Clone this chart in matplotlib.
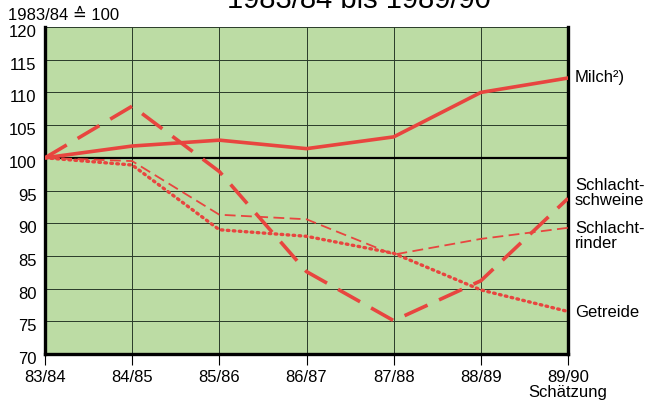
import matplotlib
matplotlib.use("Agg")
import matplotlib.pyplot as plt
import matplotlib.transforms as mtransforms

plt.rcParams['font.family'] = ['Liberation Sans', 'DejaVu Sans']

years = ["83/84", "84/85", "85/86", "86/87", "87/88", "88/89", "89/90"]
milch = [100, 101.8, 102.7, 101.4, 103.2, 110.0, 112.2]
schweine = [100, 107.9, 97.9, 82.6, 75.1, 81.2, 93.8]
rinder = [100, 99.5, 91.3, 90.6, 85.2, 87.6, 89.3]
getreide = [100, 98.9, 89.0, 88.0, 85.4, 79.8, 76.5]
y_ticks = list(range(70, 121, 5))

red = "#e8453f"
green = "#bcdca4"
fs = 12

fig = plt.figure(figsize=(6.55, 4.06), dpi=100)
ax = fig.add_axes([0.0687, 0.1256, 0.7985, 0.8054])
ax.set_facecolor(green)
x = list(range(len(years)))

ax.plot(x, milch, color=red, lw=2.6, solid_joinstyle="round", zorder=5)
ax.plot(x, schweine, color=red, lw=2.6, dashes=(7, 3.5), zorder=5)
ax.plot(x, rinder, color=red, lw=1.3, dashes=(6, 3), zorder=4)
ax.plot(x, getreide, color=red, lw=2.4, dashes=(0.5, 1.3), dash_capstyle="round", zorder=4)

ax.set_xlim(0, 6)
ax.set_ylim(70, 120)
ax.set_xticks(x)
ax.set_xticklabels(years[:-1] + ["89/90\nSchätzung"], linespacing=0.95)
ax.set_yticks(y_ticks)
ax.tick_params(axis="x", length=8, width=0.8, direction="out", labelsize=fs, pad=3)
ax.tick_params(axis="y", length=0, labelsize=fs, pad=6)
# labels sit a little below their lines in the original
shift = mtransforms.ScaledTranslation(0, -3 / 100, fig.dpi_scale_trans)
for t in ax.yaxis.get_major_ticks():
    t.label1.set_transform(t.label1.get_transform() + shift)
ax.grid(True, color="#2a3a2a", lw=0.7)
ax.axhline(100, color="black", lw=1.6, zorder=3)

for side in ["left", "bottom", "right"]:
    ax.spines[side].set_linewidth(2.4)
    ax.spines[side].set_color("black")
ax.spines["top"].set_visible(False)

ax.text(-0.42, 121.9, "1983/84 ≙ 100", fontsize=fs, ha="left", va="center", clip_on=False)
fig.text(0.548, 1.0, "1983/84 bis 1989/90", fontsize=21, ha="center", va="center")

lx = 6.08
ax.text(lx, 112.4, "Milch²)", fontsize=fs, va="center", clip_on=False)
ax.text(lx, 94.7, "Schlacht-\nschweine", fontsize=fs, va="center", linespacing=1.0, clip_on=False)
ax.text(lx, 88.2, "Schlacht-\nrinder", fontsize=fs, va="center", linespacing=1.0, clip_on=False)
ax.text(lx, 76.5, "Getreide", fontsize=fs, va="center", clip_on=False)

fig.savefig("out.png", dpi=100)
